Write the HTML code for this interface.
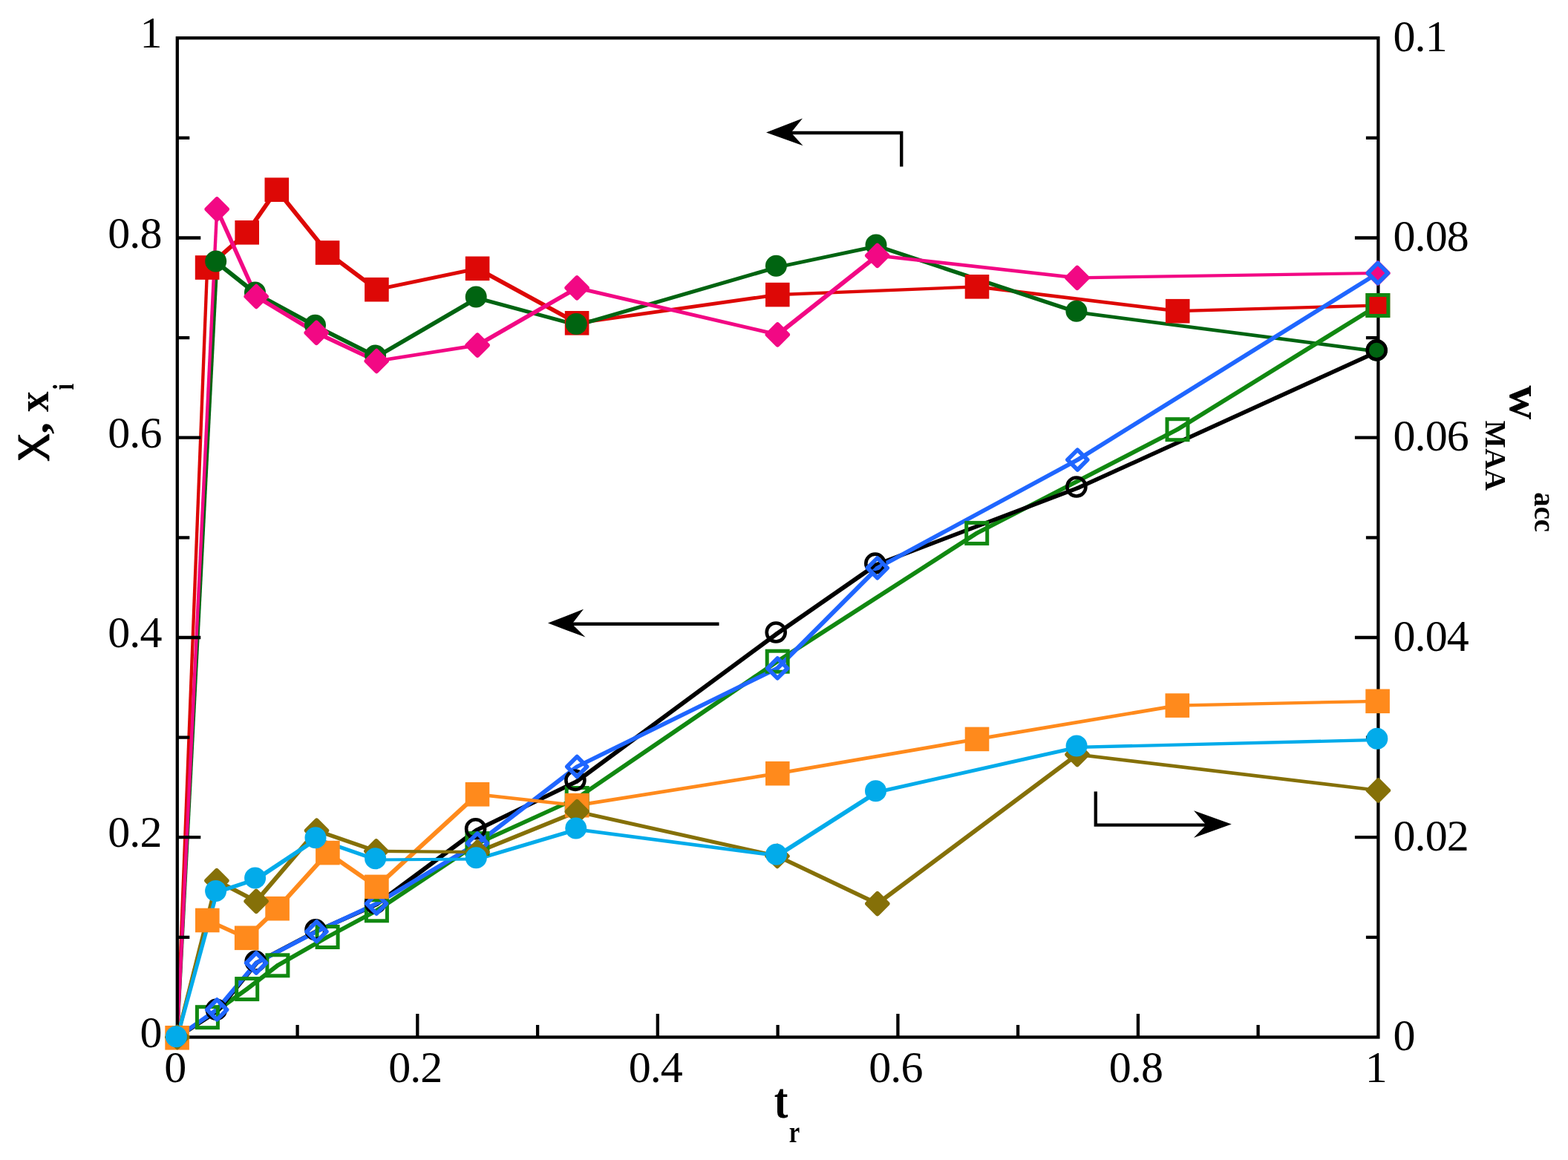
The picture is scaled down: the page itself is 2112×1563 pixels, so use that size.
<!DOCTYPE html>
<html lang="en"><head><meta charset="utf-8"><title>Conversion and composition versus reduced time</title>
<style>
html,body{margin:0;padding:0;background:#fff;}
body{width:2112px;height:1563px;overflow:hidden;}
svg{display:block;}
text{font-family:"Liberation Serif","DejaVu Serif",serif;fill:#000;}
.tk{font-size:60px;letter-spacing:-0.9px;}
.lb{font-size:61px;font-weight:bold;}
.sb{font-size:41px;font-weight:bold;}
.sr{font-size:40px;font-weight:normal;}
</style></head><body>
<svg width="2112" height="1563" viewBox="0 0 2112 1563" role="img" aria-label="Line chart with three annotated arrows">
<g id="figure">
<rect x="0" y="0" width="2112" height="1563" fill="#ffffff"/>
<g id="ticklabels" class="tk">
<text x="217.5" y="1410.7" text-anchor="end">0</text>
<text x="217.5" y="1141.4" text-anchor="end">0.2</text>
<text x="217.5" y="872.2" text-anchor="end">0.4</text>
<text x="217.5" y="602.9" text-anchor="end">0.6</text>
<text x="217.5" y="333.7" text-anchor="end">0.8</text>
<text x="217.5" y="64.4" text-anchor="end">1</text>
<text x="1876.5" y="1415.1" text-anchor="start">0</text>
<text x="1876.5" y="1145.8" text-anchor="start">0.02</text>
<text x="1876.5" y="876.6" text-anchor="start">0.04</text>
<text x="1876.5" y="607.3" text-anchor="start">0.06</text>
<text x="1876.5" y="338.1" text-anchor="start">0.08</text>
<text x="1876.5" y="68.8" text-anchor="start">0.1</text>
<text x="235.8" y="1458.3" text-anchor="middle">0</text>
<text x="559.3" y="1458.3" text-anchor="middle">0.2</text>
<text x="882.8" y="1458.3" text-anchor="middle">0.4</text>
<text x="1206.4" y="1458.3" text-anchor="middle">0.6</text>
<text x="1529.9" y="1458.3" text-anchor="middle">0.8</text>
<text x="1853.4" y="1458.3" text-anchor="middle">1</text>
</g>
<g id="titles">
<g id="xtitle">
<text transform="matrix(0.9312 0.0000 0.0000 1.1140 1042.7619 1506.2316)" style="font-size:60px;font-weight:bold">t</text>
<text transform="matrix(0.8165 0.0000 0.0000 0.9894 1062.6835 1538.7000)" style="font-size:40px;font-weight:bold">r</text>
</g>
<g id="ytitle-left">
<text transform="matrix(0.0000 1.3333 1.0050 0.0000 52.6373 585.5000)" style="font-size:60px;font-weight:normal" stroke="#000" stroke-width="0.9" stroke-linejoin="round">χ</text>
<text transform="matrix(0.0000 -1.0855 0.8778 0.0000 64.7367 584.8769)" style="font-size:60px;font-weight:bold">,</text>
<text transform="matrix(0.0000 -0.9184 0.9927 0.0000 65.3000 554.9755)" style="font-size:60px;font-weight:bold">x</text>
<text transform="matrix(0.0000 -0.7755 1.0036 0.0000 98.6000 525.6204)" style="font-size:40px;font-weight:bold">i</text>
</g>
<g id="ytitle-right">
<text transform="matrix(0.0000 1.0634 -1.0251 0.0000 2033.8151 519.2810)" style="font-size:60px;font-weight:bold">w</text>
<text transform="matrix(0.0000 0.9894 -0.9962 0.0000 2001.0000 566.6063)" style="font-size:40px;font-weight:bold">MAA</text>
<text transform="matrix(0.0000 0.9644 -1.0104 0.0000 2067.4042 663.3427)" style="font-size:40px;font-weight:bold">acc</text>
</g>
</g>
<g id="arrows" stroke="#000" stroke-width="4.4" fill="none" stroke-linejoin="miter">
<polyline points="1214.2,224.5 1214.2,179 1060,179"/>
<polyline points="968.5,840.8 765,840.8"/>
<polyline points="1475.8,1066.5 1475.8,1111.6 1630,1111.6"/>
</g>
<g id="arrowheads" fill="#000" stroke="none">
<polygon points="1032,178.4 1081,159.5 1065.5,178.8 1081.5,196.2"/>
<polygon points="738,839.6 786,820.8 770.5,840.8 788.5,858.6"/>
<polygon points="1658.8,1110.6 1608,1092.2 1624.5,1111.5 1608,1128.8"/>
</g>
<g id="lines" stroke="none">
<g fill="#DD0806">
<polygon points="236.7,1395.4 277.0,358.4 281.2,358.4 281.2,362.6 240.9,1399.6 236.7,1399.6"/>
<polygon points="277.0,358.4 330.6,311.2 334.8,311.2 334.8,315.4 281.2,362.6 277.0,362.6"/>
<polygon points="330.6,311.2 370.7,253.6 374.9,253.6 374.9,257.8 334.8,315.4 330.6,315.4"/>
<polygon points="370.7,253.6 374.9,253.6 443.2,338.4 443.2,342.6 439.0,342.6 370.7,257.8"/>
<polygon points="439.0,338.4 443.2,338.4 509.5,388.1 509.5,392.3 505.3,392.3 439.0,342.6"/>
<polygon points="505.3,388.1 641.0,359.7 645.2,359.7 645.2,363.9 509.5,392.3 505.3,392.3"/>
<polygon points="641.0,359.7 645.2,359.7 779.2,433.2 779.2,437.4 775.0,437.4 641.0,363.9"/>
<polygon points="775.0,433.2 1045.2,395.0 1049.4,395.0 1049.4,399.2 779.2,437.4 775.0,437.4"/>
<polygon points="1045.2,395.0 1313.9,384.2 1318.1,384.2 1318.1,388.4 1049.4,399.2 1045.2,399.2"/>
<polygon points="1313.9,384.2 1318.1,384.2 1588.3,417.1 1588.3,421.3 1584.1,421.3 1313.9,388.4"/>
<polygon points="1584.1,417.1 1853.8,409.4 1858.0,409.4 1858.0,413.6 1588.3,421.3 1584.1,421.3"/>
</g>
<g fill="#006411">
<polygon points="236.7,1395.4 290.2,351.7 294.4,351.7 294.4,355.9 240.9,1399.6 236.7,1399.6"/>
<polygon points="290.2,351.7 294.4,351.7 347.2,393.7 347.2,397.9 343.0,397.9 290.2,355.9"/>
<polygon points="343.0,393.7 347.2,393.7 428.2,437.8 428.2,442.0 424.0,442.0 343.0,397.9"/>
<polygon points="424.0,437.8 428.2,437.8 509.3,478.6 509.3,482.8 505.1,482.8 424.0,442.0"/>
<polygon points="505.1,478.6 640.7,399.6 644.9,399.6 644.9,403.8 509.3,482.8 505.1,482.8"/>
<polygon points="640.7,399.6 644.9,399.6 779.9,436.0 779.9,440.2 775.7,440.2 640.7,403.8"/>
<polygon points="775.7,436.0 1044.9,357.9 1049.1,357.9 1049.1,362.1 779.9,440.2 775.7,440.2"/>
<polygon points="1044.9,357.9 1179.5,329.5 1183.7,329.5 1183.7,333.7 1049.1,362.1 1044.9,362.1"/>
<polygon points="1179.5,329.5 1183.7,329.5 1453.6,418.8 1453.6,423.0 1449.4,423.0 1179.5,333.7"/>
<polygon points="1449.4,418.8 1453.6,418.8 1857.9,471.5 1857.9,475.7 1853.7,475.7 1449.4,423.0"/>
</g>
<g fill="#F20884">
<polygon points="236.7,1395.4 290.1,279.7 294.3,279.7 294.3,283.9 240.9,1399.6 236.7,1399.6"/>
<polygon points="290.1,279.7 294.3,279.7 347.3,397.4 347.3,401.6 343.1,401.6 290.1,283.9"/>
<polygon points="343.1,397.4 347.3,397.4 428.3,446.3 428.3,450.5 424.1,450.5 343.1,401.6"/>
<polygon points="424.1,446.3 428.3,446.3 509.3,484.4 509.3,488.6 505.1,488.6 424.1,450.5"/>
<polygon points="505.1,484.4 641.0,463.1 645.2,463.1 645.2,467.3 509.3,488.6 505.1,488.6"/>
<polygon points="641.0,463.1 775.0,385.8 779.2,385.8 779.2,390.0 645.2,467.3 641.0,467.3"/>
<polygon points="775.0,385.8 779.2,385.8 1049.4,448.7 1049.4,452.9 1045.2,452.9 775.0,390.0"/>
<polygon points="1045.2,448.7 1179.6,342.2 1183.8,342.2 1183.8,346.4 1049.4,452.9 1045.2,452.9"/>
<polygon points="1179.6,342.2 1183.8,342.2 1453.0,372.2 1453.0,376.4 1448.8,376.4 1179.6,346.4"/>
<polygon points="1448.8,372.2 1853.8,365.9 1858.0,365.9 1858.0,370.1 1453.0,376.4 1448.8,376.4"/>
</g>
<g fill="#118811">
<polygon points="236.7,1395.4 277.3,1368.6 281.5,1368.6 281.5,1372.8 240.9,1399.6 236.7,1399.6"/>
<polygon points="277.3,1368.6 330.6,1330.5 334.8,1330.5 334.8,1334.7 281.5,1372.8 277.3,1372.8"/>
<polygon points="330.6,1330.5 371.8,1298.7 376.0,1298.7 376.0,1302.9 334.8,1334.7 330.6,1334.7"/>
<polygon points="371.8,1298.7 439.0,1260.4 443.2,1260.4 443.2,1264.6 376.0,1302.9 371.8,1302.9"/>
<polygon points="439.0,1260.4 505.3,1224.7 509.5,1224.7 509.5,1228.9 443.2,1264.6 439.0,1264.6"/>
<polygon points="505.3,1224.7 640.8,1134.5 645.0,1134.5 645.0,1138.7 509.5,1228.9 505.3,1228.9"/>
<polygon points="640.8,1134.5 775.1,1073.4 779.3,1073.4 779.3,1077.6 645.0,1138.7 640.8,1138.7"/>
<polygon points="775.1,1073.4 1045.1,889.1 1049.3,889.1 1049.3,893.3 779.3,1077.6 775.1,1077.6"/>
<polygon points="1045.1,889.1 1313.6,716.3 1317.8,716.3 1317.8,720.5 1049.3,893.3 1045.1,893.3"/>
<polygon points="1313.6,716.3 1583.9,576.6 1588.1,576.6 1588.1,580.8 1317.8,720.5 1313.6,720.5"/>
<polygon points="1583.9,576.6 1853.8,409.4 1858.0,409.4 1858.0,413.6 1588.1,580.8 1583.9,580.8"/>
</g>
<g fill="#000000">
<polygon points="236.7,1395.4 290.9,1360.0 295.1,1360.0 295.1,1364.2 240.9,1399.6 236.7,1399.6"/>
<polygon points="290.9,1360.0 343.7,1295.0 347.9,1295.0 347.9,1299.2 295.1,1364.2 290.9,1364.2"/>
<polygon points="343.7,1295.0 424.5,1252.5 428.7,1252.5 428.7,1256.7 347.9,1299.2 343.7,1299.2"/>
<polygon points="424.5,1252.5 505.0,1216.6 509.2,1216.6 509.2,1220.8 428.7,1256.7 424.5,1256.7"/>
<polygon points="505.0,1216.6 640.1,1116.3 644.3,1116.3 644.3,1120.5 509.2,1220.8 505.0,1220.8"/>
<polygon points="640.1,1116.3 774.4,1051.0 778.6,1051.0 778.6,1055.2 644.3,1120.5 640.1,1120.5"/>
<polygon points="774.4,1051.0 1044.7,851.6 1048.9,851.6 1048.9,855.8 778.6,1055.2 774.4,1055.2"/>
<polygon points="1044.7,851.6 1178.3,758.7 1182.5,758.7 1182.5,762.9 1048.9,855.8 1044.7,855.8"/>
<polygon points="1178.3,758.7 1449.4,655.6 1453.6,655.6 1453.6,659.8 1182.5,762.9 1178.3,762.9"/>
<polygon points="1449.4,655.6 1853.7,471.5 1857.9,471.5 1857.9,475.7 1453.6,659.8 1449.4,659.8"/>
</g>
<g fill="#1F66FF">
<polygon points="236.7,1395.4 290.1,1358.3 294.3,1358.3 294.3,1362.5 240.9,1399.6 236.7,1399.6"/>
<polygon points="290.1,1358.3 343.0,1295.4 347.2,1295.4 347.2,1299.6 294.3,1362.5 290.1,1362.5"/>
<polygon points="343.0,1295.4 424.4,1253.1 428.6,1253.1 428.6,1257.3 347.2,1299.6 343.0,1299.6"/>
<polygon points="424.4,1253.1 505.0,1215.5 509.2,1215.5 509.2,1219.7 428.6,1257.3 424.4,1257.3"/>
<polygon points="505.0,1215.5 640.9,1134.2 645.1,1134.2 645.1,1138.4 509.2,1219.7 505.0,1219.7"/>
<polygon points="640.9,1134.2 775.1,1030.9 779.3,1030.9 779.3,1035.1 645.1,1138.4 640.9,1138.4"/>
<polygon points="775.1,1030.9 1045.1,898.3 1049.3,898.3 1049.3,902.5 779.3,1035.1 775.1,1035.1"/>
<polygon points="1045.1,898.3 1179.7,763.2 1183.9,763.2 1183.9,767.4 1049.3,902.5 1045.1,902.5"/>
<polygon points="1179.7,763.2 1449.2,617.5 1453.4,617.5 1453.4,621.7 1183.9,767.4 1179.7,767.4"/>
<polygon points="1449.2,617.5 1853.8,365.9 1858.0,365.9 1858.0,370.1 1453.4,621.7 1449.2,621.7"/>
</g>
<g fill="#FF8A1C">
<polygon points="236.7,1395.4 277.2,1237.9 281.4,1237.9 281.4,1242.1 240.9,1399.6 236.7,1399.6"/>
<polygon points="277.2,1237.9 281.4,1237.9 334.3,1261.7 334.3,1265.9 330.1,1265.9 277.2,1242.1"/>
<polygon points="330.1,1261.7 371.5,1222.1 375.7,1222.1 375.7,1226.3 334.3,1265.9 330.1,1265.9"/>
<polygon points="371.5,1222.1 439.3,1147.0 443.5,1147.0 443.5,1151.2 375.7,1226.3 371.5,1226.3"/>
<polygon points="439.3,1147.0 443.5,1147.0 509.5,1192.8 509.5,1197.0 505.3,1197.0 439.3,1151.2"/>
<polygon points="505.3,1192.8 640.9,1068.2 645.1,1068.2 645.1,1072.4 509.5,1197.0 505.3,1197.0"/>
<polygon points="640.9,1068.2 645.1,1068.2 779.3,1083.1 779.3,1087.3 775.1,1087.3 640.9,1072.4"/>
<polygon points="775.1,1083.1 1045.2,1040.1 1049.4,1040.1 1049.4,1044.3 779.3,1087.3 775.1,1087.3"/>
<polygon points="1045.2,1040.1 1313.9,993.8 1318.1,993.8 1318.1,998.0 1049.4,1044.3 1045.2,1044.3"/>
<polygon points="1313.9,993.8 1583.7,948.5 1587.9,948.5 1587.9,952.7 1318.1,998.0 1313.9,998.0"/>
<polygon points="1583.7,948.5 1853.5,942.7 1857.7,942.7 1857.7,946.9 1587.9,952.7 1583.7,952.7"/>
</g>
<g fill="#857008">
<polygon points="236.7,1395.4 289.8,1184.6 294.0,1184.6 294.0,1188.8 240.9,1399.6 236.7,1399.6"/>
<polygon points="289.8,1184.6 294.0,1184.6 347.2,1212.3 347.2,1216.5 343.0,1216.5 289.8,1188.8"/>
<polygon points="343.0,1212.3 424.4,1117.1 428.6,1117.1 428.6,1121.3 347.2,1216.5 343.0,1216.5"/>
<polygon points="424.4,1117.1 428.6,1117.1 508.9,1144.7 508.9,1148.9 504.7,1148.9 424.4,1121.3"/>
<polygon points="504.7,1144.7 508.9,1144.7 645.1,1146.0 645.1,1150.2 640.9,1150.2 504.7,1148.9"/>
<polygon points="640.9,1146.0 775.1,1091.5 779.3,1091.5 779.3,1095.7 645.1,1150.2 640.9,1150.2"/>
<polygon points="775.1,1091.5 779.3,1091.5 1049.1,1151.4 1049.1,1155.6 1044.9,1155.6 775.1,1095.7"/>
<polygon points="1044.9,1151.4 1049.1,1151.4 1183.9,1215.6 1183.9,1219.8 1179.7,1219.8 1044.9,1155.6"/>
<polygon points="1179.7,1215.6 1448.9,1014.6 1453.1,1014.6 1453.1,1018.8 1183.9,1219.8 1179.7,1219.8"/>
<polygon points="1448.9,1014.6 1453.1,1014.6 1858.5,1062.9 1858.5,1067.1 1854.3,1067.1 1448.9,1018.8"/>
</g>
<g fill="#02ABEA">
<polygon points="236.7,1395.4 290.1,1200.1 294.3,1200.1 294.3,1204.3 240.9,1399.6 236.7,1399.6"/>
<polygon points="290.1,1200.1 343.1,1182.5 347.3,1182.5 347.3,1186.7 294.3,1204.3 290.1,1204.3"/>
<polygon points="343.1,1182.5 424.5,1128.4 428.7,1128.4 428.7,1132.6 347.3,1186.7 343.1,1186.7"/>
<polygon points="424.5,1128.4 428.7,1128.4 509.3,1156.4 509.3,1160.6 505.1,1160.6 424.5,1132.6"/>
<polygon points="505.1,1156.4 640.8,1155.4 645.0,1155.4 645.0,1159.6 509.3,1160.6 505.1,1160.6"/>
<polygon points="640.8,1155.4 775.2,1115.5 779.4,1115.5 779.4,1119.7 645.0,1159.6 640.8,1159.6"/>
<polygon points="775.2,1115.5 779.4,1115.5 1049.3,1150.8 1049.3,1155.0 1045.1,1155.0 775.2,1119.7"/>
<polygon points="1045.1,1150.8 1179.0,1065.3 1183.2,1065.3 1183.2,1069.5 1049.3,1155.0 1045.1,1155.0"/>
<polygon points="1179.0,1065.3 1449.6,1004.7 1453.8,1004.7 1453.8,1008.9 1183.2,1069.5 1179.0,1069.5"/>
<polygon points="1449.6,1004.7 1854.3,994.8 1858.5,994.8 1858.5,999.0 1453.8,1008.9 1449.6,1008.9"/>
</g>
</g>
<g id="axes" stroke="#000" stroke-width="4.30" fill="none" stroke-linecap="butt">
<rect x="238.8" y="51.2" width="1617.6" height="1346.3"/>
<line x1="238.8" y1="1262.9" x2="255.3" y2="1262.9"/>
<line x1="1856.4" y1="1262.9" x2="1839.9" y2="1262.9"/>
<line x1="400.6" y1="1397.5" x2="400.6" y2="1381.0"/>
<line x1="238.8" y1="1128.2" x2="270.3" y2="1128.2"/>
<line x1="1856.4" y1="1128.2" x2="1824.9" y2="1128.2"/>
<line x1="562.3" y1="1397.5" x2="562.3" y2="1366.0"/>
<line x1="238.8" y1="993.6" x2="255.3" y2="993.6"/>
<line x1="1856.4" y1="993.6" x2="1839.9" y2="993.6"/>
<line x1="724.1" y1="1397.5" x2="724.1" y2="1381.0"/>
<line x1="238.8" y1="859.0" x2="270.3" y2="859.0"/>
<line x1="1856.4" y1="859.0" x2="1824.9" y2="859.0"/>
<line x1="885.8" y1="1397.5" x2="885.8" y2="1366.0"/>
<line x1="238.8" y1="724.4" x2="255.3" y2="724.4"/>
<line x1="1856.4" y1="724.4" x2="1839.9" y2="724.4"/>
<line x1="1047.6" y1="1397.5" x2="1047.6" y2="1381.0"/>
<line x1="238.8" y1="589.7" x2="270.3" y2="589.7"/>
<line x1="1856.4" y1="589.7" x2="1824.9" y2="589.7"/>
<line x1="1209.4" y1="1397.5" x2="1209.4" y2="1366.0"/>
<line x1="238.8" y1="455.1" x2="255.3" y2="455.1"/>
<line x1="1856.4" y1="455.1" x2="1839.9" y2="455.1"/>
<line x1="1371.1" y1="1397.5" x2="1371.1" y2="1381.0"/>
<line x1="238.8" y1="320.5" x2="270.3" y2="320.5"/>
<line x1="1856.4" y1="320.5" x2="1824.9" y2="320.5"/>
<line x1="1532.9" y1="1397.5" x2="1532.9" y2="1366.0"/>
<line x1="238.8" y1="185.8" x2="255.3" y2="185.8"/>
<line x1="1856.4" y1="185.8" x2="1839.9" y2="185.8"/>
<line x1="1694.6" y1="1397.5" x2="1694.6" y2="1381.0"/>
</g>
<g id="markers">
<g>
<rect x="262.8" y="344.2" width="32.6" height="32.6" fill="#DD0806"/>
<rect x="316.4" y="297.0" width="32.6" height="32.6" fill="#DD0806"/>
<rect x="356.5" y="239.4" width="32.6" height="32.6" fill="#DD0806"/>
<rect x="424.8" y="324.2" width="32.6" height="32.6" fill="#DD0806"/>
<rect x="491.1" y="373.9" width="32.6" height="32.6" fill="#DD0806"/>
<rect x="626.8" y="345.5" width="32.6" height="32.6" fill="#DD0806"/>
<rect x="760.8" y="419.0" width="32.6" height="32.6" fill="#DD0806"/>
<rect x="1031.0" y="380.8" width="32.6" height="32.6" fill="#DD0806"/>
<rect x="1299.7" y="370.0" width="32.6" height="32.6" fill="#DD0806"/>
<rect x="1569.9" y="402.9" width="32.6" height="32.6" fill="#DD0806"/>
<rect x="1839.6" y="395.2" width="32.6" height="32.6" fill="#DD0806"/>
</g>
<g>
<circle cx="290.7" cy="352.1" r="14.5" fill="#006411"/>
<circle cx="343.5" cy="394.1" r="14.5" fill="#006411"/>
<circle cx="424.5" cy="438.2" r="14.5" fill="#006411"/>
<circle cx="505.6" cy="479.0" r="14.5" fill="#006411"/>
<circle cx="641.2" cy="400.0" r="14.5" fill="#006411"/>
<circle cx="776.2" cy="436.4" r="14.5" fill="#006411"/>
<circle cx="1045.4" cy="358.3" r="14.5" fill="#006411"/>
<circle cx="1180.0" cy="329.9" r="14.5" fill="#006411"/>
<circle cx="1449.9" cy="419.2" r="14.5" fill="#006411"/>
<circle cx="1854.2" cy="471.9" r="14.5" fill="#006411"/>
</g>
<g>
<rect x="279.50" y="269.10" width="25.4" height="25.4" rx="3" ry="3" fill="#F20884" transform="rotate(45 292.2 281.8)"/>
<rect x="332.50" y="386.80" width="25.4" height="25.4" rx="3" ry="3" fill="#F20884" transform="rotate(45 345.2 399.5)"/>
<rect x="413.50" y="435.70" width="25.4" height="25.4" rx="3" ry="3" fill="#F20884" transform="rotate(45 426.2 448.4)"/>
<rect x="494.50" y="473.80" width="25.4" height="25.4" rx="3" ry="3" fill="#F20884" transform="rotate(45 507.2 486.5)"/>
<rect x="630.40" y="452.50" width="25.4" height="25.4" rx="3" ry="3" fill="#F20884" transform="rotate(45 643.1 465.2)"/>
<rect x="764.40" y="375.20" width="25.4" height="25.4" rx="3" ry="3" fill="#F20884" transform="rotate(45 777.1 387.9)"/>
<rect x="1034.60" y="438.10" width="25.4" height="25.4" rx="3" ry="3" fill="#F20884" transform="rotate(45 1047.3 450.8)"/>
<rect x="1169.00" y="331.60" width="25.4" height="25.4" rx="3" ry="3" fill="#F20884" transform="rotate(45 1181.7 344.3)"/>
<rect x="1438.20" y="361.60" width="25.4" height="25.4" rx="3" ry="3" fill="#F20884" transform="rotate(45 1450.9 374.3)"/>
<rect x="1843.20" y="355.30" width="25.4" height="25.4" rx="3" ry="3" fill="#F20884" transform="rotate(45 1855.9 368.0)"/>
</g>
<g>
<rect x="265.4" y="1356.7" width="28.0" height="28.0" fill="none" stroke="#118811" stroke-width="5"/>
<rect x="318.7" y="1318.6" width="28.0" height="28.0" fill="none" stroke="#118811" stroke-width="5"/>
<rect x="359.9" y="1286.8" width="28.0" height="28.0" fill="none" stroke="#118811" stroke-width="5"/>
<rect x="427.1" y="1248.5" width="28.0" height="28.0" fill="none" stroke="#118811" stroke-width="5"/>
<rect x="493.4" y="1212.8" width="28.0" height="28.0" fill="none" stroke="#118811" stroke-width="5"/>
<rect x="628.9" y="1122.6" width="28.0" height="28.0" fill="none" stroke="#118811" stroke-width="5"/>
<rect x="763.2" y="1061.5" width="28.0" height="28.0" fill="none" stroke="#118811" stroke-width="5"/>
<rect x="1033.2" y="877.2" width="28.0" height="28.0" fill="none" stroke="#118811" stroke-width="5"/>
<rect x="1301.7" y="704.4" width="28.0" height="28.0" fill="none" stroke="#118811" stroke-width="5"/>
<rect x="1572.0" y="564.7" width="28.0" height="28.0" fill="none" stroke="#118811" stroke-width="5"/>
<rect x="1841.9" y="397.5" width="28.0" height="28.0" fill="none" stroke="#118811" stroke-width="5"/>
</g>
<g>
<circle cx="291.4" cy="1360.4" r="12.5" fill="none" stroke="#000000" stroke-width="4.6"/>
<circle cx="344.2" cy="1295.4" r="12.5" fill="none" stroke="#000000" stroke-width="4.6"/>
<circle cx="425.0" cy="1252.9" r="12.5" fill="none" stroke="#000000" stroke-width="4.6"/>
<circle cx="505.5" cy="1217.0" r="12.5" fill="none" stroke="#000000" stroke-width="4.6"/>
<circle cx="640.6" cy="1116.7" r="12.5" fill="none" stroke="#000000" stroke-width="4.6"/>
<circle cx="774.9" cy="1051.4" r="12.5" fill="none" stroke="#000000" stroke-width="4.6"/>
<circle cx="1045.2" cy="852.0" r="12.5" fill="none" stroke="#000000" stroke-width="4.6"/>
<circle cx="1178.8" cy="759.1" r="12.5" fill="none" stroke="#000000" stroke-width="4.6"/>
<circle cx="1449.9" cy="656.0" r="12.5" fill="none" stroke="#000000" stroke-width="4.6"/>
<circle cx="1854.2" cy="471.9" r="12.5" fill="none" stroke="#000000" stroke-width="4.6"/>
</g>
<g>
<rect x="282.70" y="1350.90" width="19.0" height="19.0" fill="none" stroke="#1F66FF" stroke-width="5.6" stroke-linejoin="round" transform="rotate(45 292.2 1360.4)"/>
<rect x="335.60" y="1288.00" width="19.0" height="19.0" fill="none" stroke="#1F66FF" stroke-width="5.6" stroke-linejoin="round" transform="rotate(45 345.1 1297.5)"/>
<rect x="417.00" y="1245.70" width="19.0" height="19.0" fill="none" stroke="#1F66FF" stroke-width="5.6" stroke-linejoin="round" transform="rotate(45 426.5 1255.2)"/>
<rect x="497.60" y="1208.10" width="19.0" height="19.0" fill="none" stroke="#1F66FF" stroke-width="5.6" stroke-linejoin="round" transform="rotate(45 507.1 1217.6)"/>
<rect x="633.50" y="1126.80" width="19.0" height="19.0" fill="none" stroke="#1F66FF" stroke-width="5.6" stroke-linejoin="round" transform="rotate(45 643.0 1136.3)"/>
<rect x="767.70" y="1023.50" width="19.0" height="19.0" fill="none" stroke="#1F66FF" stroke-width="5.6" stroke-linejoin="round" transform="rotate(45 777.2 1033.0)"/>
<rect x="1037.70" y="890.90" width="19.0" height="19.0" fill="none" stroke="#1F66FF" stroke-width="5.6" stroke-linejoin="round" transform="rotate(45 1047.2 900.4)"/>
<rect x="1172.30" y="755.80" width="19.0" height="19.0" fill="none" stroke="#1F66FF" stroke-width="5.6" stroke-linejoin="round" transform="rotate(45 1181.8 765.3)"/>
<rect x="1441.80" y="610.10" width="19.0" height="19.0" fill="none" stroke="#1F66FF" stroke-width="5.6" stroke-linejoin="round" transform="rotate(45 1451.3 619.6)"/>
<rect x="1846.40" y="358.50" width="19.0" height="19.0" fill="none" stroke="#1F66FF" stroke-width="5.6" stroke-linejoin="round" transform="rotate(45 1855.9 368.0)"/>
</g>
<g>
<rect x="222.3" y="1382.0" width="32.6" height="32.6" fill="#FF8A1C"/>
<rect x="263.0" y="1223.7" width="32.6" height="32.6" fill="#FF8A1C"/>
<rect x="315.9" y="1247.5" width="32.6" height="32.6" fill="#FF8A1C"/>
<rect x="357.3" y="1207.9" width="32.6" height="32.6" fill="#FF8A1C"/>
<rect x="425.1" y="1132.8" width="32.6" height="32.6" fill="#FF8A1C"/>
<rect x="491.1" y="1178.6" width="32.6" height="32.6" fill="#FF8A1C"/>
<rect x="626.7" y="1054.0" width="32.6" height="32.6" fill="#FF8A1C"/>
<rect x="760.9" y="1068.9" width="32.6" height="32.6" fill="#FF8A1C"/>
<rect x="1031.0" y="1025.9" width="32.6" height="32.6" fill="#FF8A1C"/>
<rect x="1299.7" y="979.6" width="32.6" height="32.6" fill="#FF8A1C"/>
<rect x="1569.5" y="934.3" width="32.6" height="32.6" fill="#FF8A1C"/>
<rect x="1839.3" y="928.5" width="32.6" height="32.6" fill="#FF8A1C"/>
</g>
<g>
<rect x="226.10" y="1384.80" width="25.4" height="25.4" rx="3" ry="3" fill="#857008" transform="rotate(45 238.8 1397.5)"/>
<rect x="279.20" y="1174.00" width="25.4" height="25.4" rx="3" ry="3" fill="#857008" transform="rotate(45 291.9 1186.7)"/>
<rect x="332.40" y="1201.70" width="25.4" height="25.4" rx="3" ry="3" fill="#857008" transform="rotate(45 345.1 1214.4)"/>
<rect x="413.80" y="1106.50" width="25.4" height="25.4" rx="3" ry="3" fill="#857008" transform="rotate(45 426.5 1119.2)"/>
<rect x="494.10" y="1134.10" width="25.4" height="25.4" rx="3" ry="3" fill="#857008" transform="rotate(45 506.8 1146.8)"/>
<rect x="630.30" y="1135.40" width="25.4" height="25.4" rx="3" ry="3" fill="#857008" transform="rotate(45 643.0 1148.1)"/>
<rect x="764.50" y="1080.90" width="25.4" height="25.4" rx="3" ry="3" fill="#857008" transform="rotate(45 777.2 1093.6)"/>
<rect x="1034.30" y="1140.80" width="25.4" height="25.4" rx="3" ry="3" fill="#857008" transform="rotate(45 1047.0 1153.5)"/>
<rect x="1169.10" y="1205.00" width="25.4" height="25.4" rx="3" ry="3" fill="#857008" transform="rotate(45 1181.8 1217.7)"/>
<rect x="1438.30" y="1004.00" width="25.4" height="25.4" rx="3" ry="3" fill="#857008" transform="rotate(45 1451.0 1016.7)"/>
<rect x="1843.70" y="1052.30" width="25.4" height="25.4" rx="3" ry="3" fill="#857008" transform="rotate(45 1856.4 1065.0)"/>
</g>
<g>
<circle cx="237.4" cy="1396.7" r="14.5" fill="#02ABEA"/>
<circle cx="290.6" cy="1200.5" r="14.5" fill="#02ABEA"/>
<circle cx="343.6" cy="1182.9" r="14.5" fill="#02ABEA"/>
<circle cx="425.0" cy="1128.8" r="14.5" fill="#02ABEA"/>
<circle cx="505.6" cy="1156.8" r="14.5" fill="#02ABEA"/>
<circle cx="641.3" cy="1155.8" r="14.5" fill="#02ABEA"/>
<circle cx="775.7" cy="1115.9" r="14.5" fill="#02ABEA"/>
<circle cx="1045.6" cy="1151.2" r="14.5" fill="#02ABEA"/>
<circle cx="1179.5" cy="1065.7" r="14.5" fill="#02ABEA"/>
<circle cx="1450.1" cy="1005.1" r="14.5" fill="#02ABEA"/>
<circle cx="1854.8" cy="995.2" r="14.5" fill="#02ABEA"/>
</g>
</g>
</g>
</svg>
</body></html>
